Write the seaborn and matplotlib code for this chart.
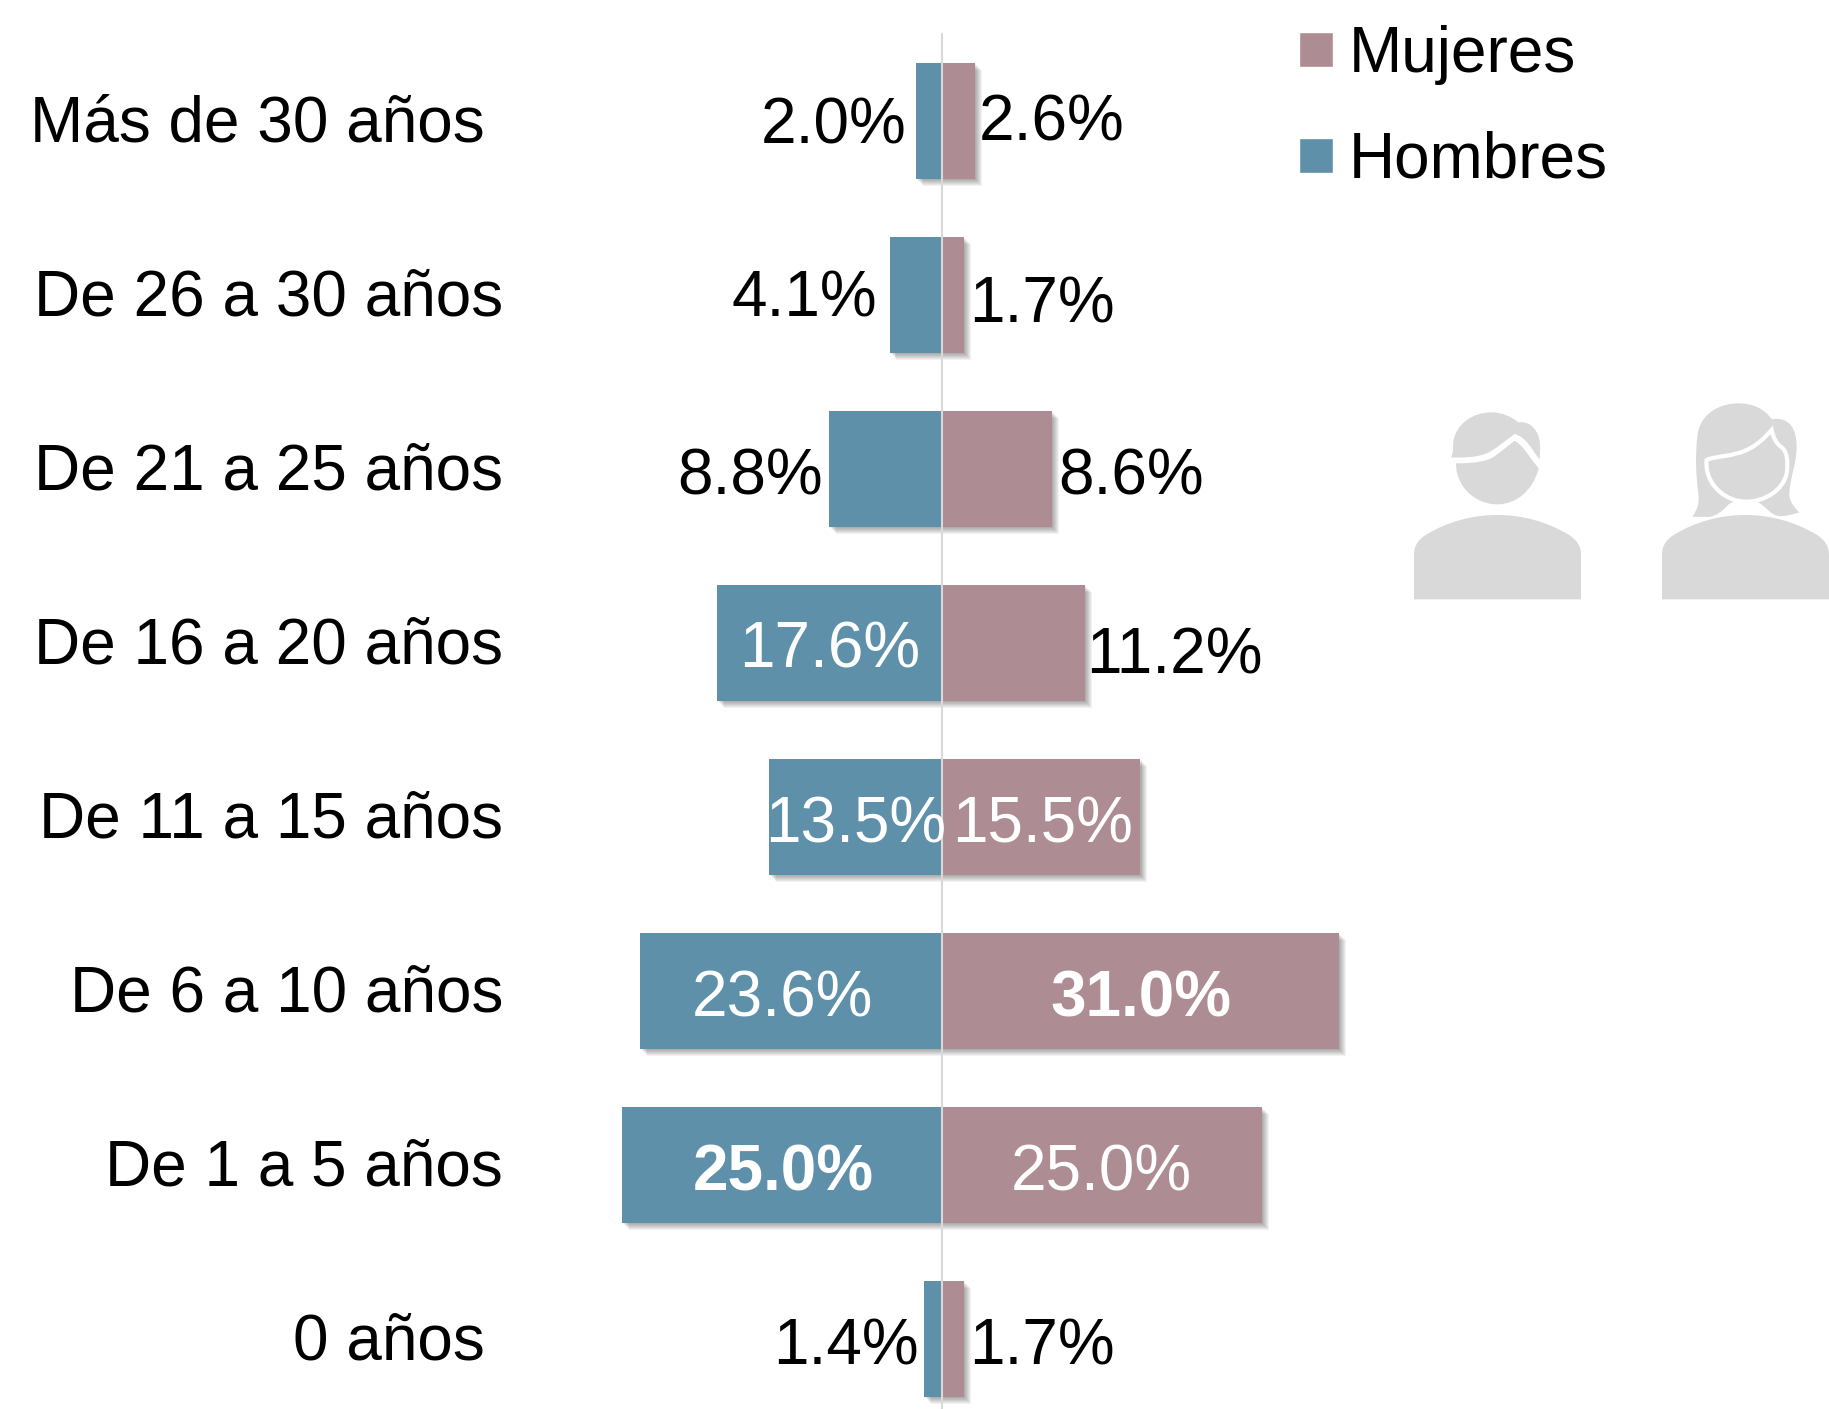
import matplotlib
matplotlib.use("Agg")
import matplotlib.pyplot as plt
import matplotlib.patheffects as pe
from matplotlib.patches import Patch, PathPatch
from matplotlib.path import Path
from matplotlib.transforms import ScaledTranslation
import pandas as pd
import seaborn as sns

ages = ["Más de 30 años", "De 26 a 30 años", "De 21 a 25 años", "De 16 a 20 años",
        "De 11 a 15 años", "De 6 a 10 años", "De 1 a 5 años", "0 años"]
hombres = [2.0, 4.1, 8.8, 17.6, 13.5, 23.6, 25.0, 1.4]
mujeres = [2.6, 1.7, 8.6, 11.2, 15.5, 31.0, 25.0, 1.7]

BLUE, ROSE = "#5E90A9", "#AE8C93"
W, H = 1829, 1409
DPI = 100
FS = 46

sns.set_theme(style="white")
plt.rcParams["font.family"] = ["Liberation Sans", "DejaVu Sans"]

df = pd.DataFrame({
    "Edad": ages * 2,
    "Porcentaje": [-v for v in hombres] + mujeres,
    "Sexo": ["Hombres"] * len(ages) + ["Mujeres"] * len(ages),
})

fig = plt.figure(figsize=(W / DPI, H / DPI), dpi=DPI, facecolor="white")
AX_LEFT = 520
ZERO_PX, PX_PER_UNIT = 942, 12.8
ROW0_PX, ROW_PX = 121.3, 174
ax = fig.add_axes([AX_LEFT / W, 0, 1 - AX_LEFT / W, 1])
sns.barplot(data=df, y="Edad", x="Porcentaje", hue="Sexo", order=ages,
            hue_order=["Hombres", "Mujeres"], palette={"Hombres": BLUE, "Mujeres": ROSE},
            dodge=False, width=116 / 174, legend=False, saturation=1, ax=ax, errorbar=None)
ax.set_xlim((AX_LEFT - ZERO_PX) / PX_PER_UNIT, (W - ZERO_PX) / PX_PER_UNIT)
ax.set_ylim((H - ROW0_PX) / ROW_PX, -ROW0_PX / ROW_PX)

shadow = [pe.SimplePatchShadow(offset=(o, -o), shadow_rgbFace="black", alpha=0.05)
          for o in (5.0, 4.3, 3.6, 2.9, 2.2, 1.5, 0.8)] + [pe.Normal()]
for patch in ax.patches:
    patch.set_edgecolor("none")
    patch.set_path_effects(shadow)

ax.axvline(0, ymin=0, ymax=1 - 34 / H, color="#D9D9D9", lw=1.5, zorder=5)

for s in ax.spines.values():
    s.set_visible(False)
ax.set_xlabel("")
ax.set_ylabel("")
ax.set_xticks([])
ax.tick_params(axis="y", length=0, labelsize=FS, labelcolor="black")
tick_pads_px = [35, 17, 17, 17, 17, 17, 17, 35]
for tick, pad in zip(ax.yaxis.get_major_ticks(), tick_pads_px):
    tick.set_pad(pad * 72 / DPI)
for label in ax.get_yticklabels():
    label.set_transform(label.get_transform()
                        + ScaledTranslation(0, 3.5 / DPI, fig.dpi_scale_trans))

# value labels: pixel offsets from the bar end to text centre / baseline
dx_h = [-83, -85.5, -79, 113, 86, 143, 161, -78]
dy_h = [22, 21, 25, 24, 25, 25, 25, 25]
dx_m = [76, 78, 79, 89, -98, -198, -161, 78]
dy_m = [19, 27, 25, 30, 25, 25, 25, 25]
color_h = ["black", "black", "black", "white", "white", "white", "white", "black"]
color_m = ["black", "black", "black", "black", "white", "white", "white", "black"]
weight_h = ["normal"] * 6 + ["bold", "normal"]
weight_m = ["normal"] * 5 + ["bold", "normal", "normal"]

for i in range(len(ages)):
    ax.annotate(f"{hombres[i]:.1f}%", xy=(-hombres[i], i), xytext=(dx_h[i], -dy_h[i]),
                textcoords="offset pixels", ha="center", va="baseline",
                fontsize=FS, color=color_h[i], fontweight=weight_h[i], zorder=6)
    ax.annotate(f"{mujeres[i]:.1f}%", xy=(mujeres[i], i), xytext=(dx_m[i], -dy_m[i]),
                textcoords="offset pixels", ha="center", va="baseline",
                fontsize=FS, color=color_m[i], fontweight=weight_m[i], zorder=6)

handles = [Patch(facecolor=ROSE, label="Mujeres"), Patch(facecolor=BLUE, label="Hombres")]
fig.legend(handles=handles, loc="upper left", bbox_to_anchor=(1299 / W, 1 - 25 / H),
           bbox_transform=fig.transFigure, frameon=False, fontsize=FS, borderpad=0,
           borderaxespad=0, handlelength=0.53, handleheight=0.47, handletextpad=0.25,
           labelspacing=0.72, labelcolor="black")

# person icons
GREY = "#D9D9D9"
icon = fig.add_axes([1380 / W, (H - 620) / H, 449 / W, 240 / H], zorder=3)
icon.set_xlim(0, 1347)
icon.set_ylim(720, 0)
icon.axis("off")


def shape(start, *segs):
    verts, codes = [start], [Path.MOVETO]
    for seg in segs:
        if len(seg) == 1:
            verts += seg
            codes += [Path.LINETO]
        else:
            verts += seg
            codes += [Path.CURVE4] * 3
    verts.append(start)
    codes.append(Path.CLOSEPOLY)
    return Path(verts, codes)


def body(x0):
    return shape((x0, 658), [(x0, 525)],
                 [(x0, 495), (x0 + 15, 478), (x0 + 35, 465)],
                 [(x0 + 100, 425), (x0 + 175, 405), (x0 + 250, 405)],
                 [(x0 + 325, 405), (x0 + 400, 425), (x0 + 465, 465)],
                 [(x0 + 485, 478), (x0 + 501, 495), (x0 + 501, 525)],
                 [(x0 + 501, 658)])


paths = [
    body(102),
    # man: face
    shape((228, 250),
          [(290, 250), (325, 243), (345, 228)],
          [(365, 213), (385, 198), (403, 182)],
          [(430, 195), (450, 235), (476, 265)],
          [(460, 330), (410, 373), (352, 373)],
          [(285, 373), (228, 320), (228, 250)]),
    # man: hair
    shape((213, 232),
          [(222, 212), (218, 200), (220, 185)],
          [(228, 130), (280, 97), (335, 97)],
          [(365, 97), (395, 110), (415, 127)],
          [(455, 122), (478, 155), (480, 195)],
          [(481, 210), (480, 225), (479, 238)],
          [(455, 210), (440, 170), (403, 162)],
          [(380, 180), (355, 200), (330, 215)],
          [(300, 232), (255, 234), (213, 232)]),
    body(846),
    # woman: hair
    shape((937, 410),
          [(955, 385), (958, 365), (955, 340)],
          [(948, 290), (945, 230), (952, 170)],
          [(958, 100), (1020, 70), (1075, 70)],
          [(1120, 70), (1155, 88), (1175, 118)],
          [(1230, 108), (1250, 150), (1250, 200)],
          [(1250, 250), (1228, 300), (1228, 345)],
          [(1228, 365), (1245, 385), (1258, 397)],
          [(1235, 404), (1215, 410), (1195, 408)],
          [(1175, 405), (1160, 385), (1143, 372)],
          [(1100, 345)],
          [(1047, 372)],
          [(1025, 395), (1010, 408), (985, 411)]),
]
for p in paths:
    icon.add_patch(PathPatch(p, facecolor=GREY, edgecolor="none"))
face = shape((980, 240),
             [(1000, 228), (1060, 232), (1110, 205)],
             [(1135, 192), (1155, 172), (1175, 150)],
             [(1180, 175), (1190, 192), (1205, 202)],
             [(1222, 214), (1225, 250), (1220, 280)],
             [(1210, 330), (1155, 365), (1098, 365)],
             [(1040, 365), (985, 320), (980, 262)],
             [(980, 255), (978, 248), (980, 240)])
icon.add_patch(PathPatch(face, facecolor=GREY, edgecolor="white", lw=3))

fig.savefig("out.png", dpi=DPI, facecolor="white")
